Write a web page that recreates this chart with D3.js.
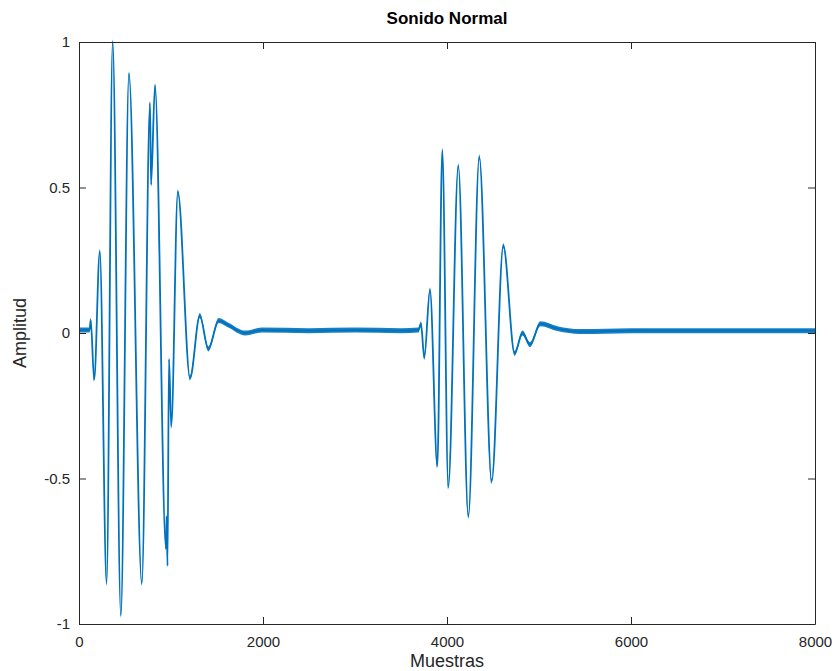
<!DOCTYPE html>
<html>
<head>
<meta charset="utf-8">
<script src="https://cdn.jsdelivr.net/npm/d3@7/dist/d3.min.js"></script>
<style>
  html, body { margin: 0; padding: 0; background: #ffffff; }
  svg { display: block; font-family: "Liberation Sans", Arial, Helvetica, sans-serif; }
</style>
</head>
<body>
<svg id="chart" width="835" height="671"></svg>
<script>
// Heart-sound recording: sample index and amplitude at each turning point
const samples = [
  0, 115, 127, 165, 226, 300, 366, 455, 543, 683, 772, 783, 826,
  945, 952, 962, 978, 1003, 1074, 1207, 1313, 1406, 1518, 1623, 1804, 1985,
  2500, 3000, 3500, 3690,
  3717, 3753, 3815, 3895, 3949, 4014, 4123, 4232, 4351, 4486, 4612,
  4735, 4820, 4902, 5015, 5200, 5446, 6000, 6500, 7000, 7500, 8000
];
const amplitude = [
  0.01, 0.01, 0.045, -0.16, 0.28, -0.86, 1.0, -0.97, 0.89, -0.86, 0.79, 0.51, 0.85,
  -0.74, -0.63, -0.80, -0.09, -0.32, 0.485, -0.155, 0.06, -0.055, 0.043, 0.027, 0.0, 0.01,
  0.008, 0.01, 0.008, 0.01,
  0.032, -0.085, 0.148, -0.457, 0.628, -0.53, 0.574, -0.63, 0.605, -0.51, 0.30,
  -0.07, 0.0, -0.04, 0.032, 0.015, 0.005, 0.008, 0.008, 0.008, 0.008, 0.008
];
// Background noise half-width of the recording
const noiseAmplitude = 0.0085;

const xTicks = [0, 2000, 4000, 6000, 8000];
const yTicks = [-1, -0.5, 0, 0.5, 1];
const yTickLabels = ["-1", "-0.5", "0", "0.5", "1"];

const titleText = "Sonido Normal";
const xLabelText = "Muestras";
const yLabelText = "Amplitud";

const data = samples.map((s, i) => ({ s, v: amplitude[i] }));

const plot = { left: 79, right: 815, top: 42, bottom: 624 };
const lineColor = "#0072BD";
const axisColor = "#262626";

const svg = d3.select("#chart");

const x = d3.scaleLinear().domain([0, 8000]).range([plot.left, plot.right]);
const y = d3.scaleLinear().domain([-1, 1]).range([plot.bottom, plot.top]);

// signal: noise band plus the trace itself
const band = d3.area()
  .x(d => x(d.s))
  .y0(d => y(d.v - noiseAmplitude))
  .y1(d => y(d.v + noiseAmplitude))
  .curve(d3.curveMonotoneX);

const trace = d3.line()
  .x(d => x(d.s))
  .y(d => y(d.v))
  .curve(d3.curveMonotoneX);

svg.append("path")
  .datum(data)
  .attr("d", band)
  .attr("fill", lineColor)
  .attr("opacity", 0.9);

svg.append("path")
  .datum(data)
  .attr("d", trace)
  .attr("fill", "none")
  .attr("stroke", lineColor)
  .attr("stroke-width", 1.8)
  .attr("stroke-linejoin", "round");

// axes box with inward ticks
const tickLen = 7;
const styleAxis = g => {
  g.selectAll(".domain").attr("stroke", axisColor).attr("stroke-width", 1).attr("fill", "none");
  g.selectAll(".tick line").attr("stroke", axisColor).attr("stroke-width", 1);
  g.selectAll(".tick text")
    .attr("fill", axisColor)
    .style("font-size", "15px")
    .style("font-family", "'Liberation Sans', Arial, sans-serif");
};

svg.append("g")
  .attr("transform", `translate(0,${plot.bottom})`)
  .call(d3.axisBottom(x).tickValues(xTicks).tickSize(-tickLen).tickSizeOuter(0)
    .tickPadding(12).tickFormat(d3.format("d")))
  .call(styleAxis);

svg.append("g")
  .attr("transform", `translate(0,${plot.top})`)
  .call(d3.axisTop(x).tickValues(xTicks).tickSize(-tickLen).tickSizeOuter(0).tickFormat(""))
  .call(styleAxis);

svg.append("g")
  .attr("transform", `translate(${plot.left},0)`)
  .call(d3.axisLeft(y).tickValues(yTicks).tickSize(-tickLen).tickSizeOuter(0)
    .tickPadding(9).tickFormat((d, i) => yTickLabels[i]))
  .call(styleAxis);

svg.append("g")
  .attr("transform", `translate(${plot.right},0)`)
  .call(d3.axisRight(y).tickValues(yTicks).tickSize(-tickLen).tickSizeOuter(0).tickFormat(""))
  .call(styleAxis);

// titles
svg.append("text")
  .attr("x", (plot.left + plot.right) / 2)
  .attr("y", 24)
  .attr("text-anchor", "middle")
  .attr("font-weight", "bold")
  .attr("font-size", 17)
  .attr("fill", "#000000")
  .text(titleText);

svg.append("text")
  .attr("x", (plot.left + plot.right) / 2)
  .attr("y", 667)
  .attr("text-anchor", "middle")
  .attr("font-size", 18)
  .attr("fill", axisColor)
  .text(xLabelText);

svg.append("text")
  .attr("transform", `translate(26,${(plot.top + plot.bottom) / 2}) rotate(-90)`)
  .attr("text-anchor", "middle")
  .attr("font-size", 18)
  .attr("fill", axisColor)
  .text(yLabelText);
</script>
</body>
</html>
